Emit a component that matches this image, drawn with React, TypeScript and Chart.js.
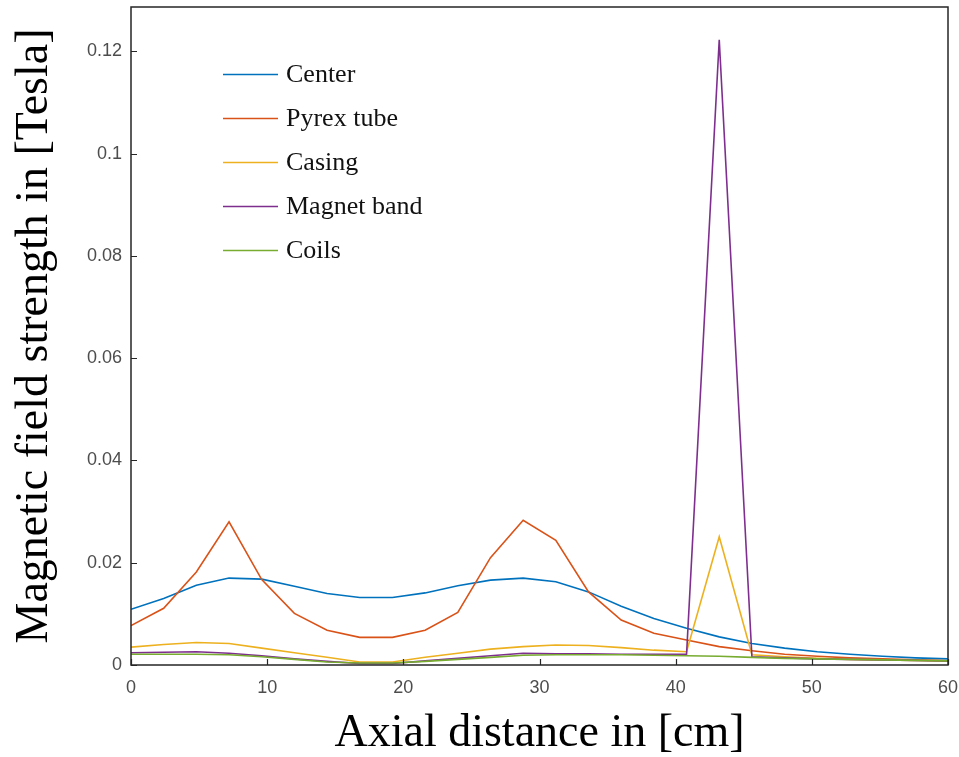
import React, { useEffect, useRef } from "react";
import { Chart, registerables } from "chart.js";

Chart.register(...registerables);

const axialPositions = [0, 2.4, 4.8, 7.2, 9.6, 12, 14.4, 16.8, 19.2, 21.6, 24, 26.4, 28.8, 31.2, 33.6, 36, 38.4, 40.8, 43.2, 45.6, 48, 50.4, 52.8, 55.2, 57.6, 60];

const centerField = [0.0109, 0.0130, 0.0156, 0.0170, 0.0168, 0.0154, 0.0140, 0.0132, 0.0132, 0.0141, 0.0155, 0.0166, 0.0170, 0.0163, 0.0143, 0.0115, 0.0091, 0.0072, 0.0055, 0.0042, 0.0033, 0.0026, 0.0021, 0.0017, 0.0014, 0.0012];
const pyrexField = [0.0077, 0.0111, 0.0182, 0.0280, 0.0167, 0.0101, 0.0068, 0.0054, 0.0054, 0.0068, 0.0103, 0.0210, 0.0283, 0.0244, 0.0143, 0.0088, 0.0062, 0.0049, 0.0036, 0.0028, 0.0021, 0.0017, 0.0014, 0.0012, 0.0010, 0.0008];
const casingField = [0.0035, 0.0040, 0.0044, 0.0042, 0.0033, 0.0024, 0.0015, 0.0006, 0.0006, 0.0015, 0.0023, 0.0031, 0.0036, 0.0039, 0.0038, 0.0034, 0.0029, 0.0026, 0.0251, 0.0020, 0.0016, 0.0013, 0.0011, 0.0010, 0.0009, 0.0008];
const magnetBandField = [0.0024, 0.0025, 0.0026, 0.0023, 0.0018, 0.0012, 0.0007, 0.0003, 0.0003, 0.0008, 0.0013, 0.0018, 0.0023, 0.0022, 0.0022, 0.0021, 0.0021, 0.0021, 0.1223, 0.0016, 0.0014, 0.0012, 0.0011, 0.0010, 0.0009, 0.0008];
const coilsField = [0.0021, 0.0021, 0.0021, 0.0020, 0.0016, 0.0011, 0.0006, 0.0004, 0.0004, 0.0007, 0.0011, 0.0015, 0.0019, 0.0020, 0.0020, 0.0020, 0.0019, 0.0018, 0.0017, 0.0015, 0.0013, 0.0012, 0.0011, 0.0010, 0.0009, 0.0008];

const seriesLabels = ["Center", "Pyrex tube", "Casing", "Magnet band", "Coils"];
const seriesColors = ["#0072BD", "#D95319", "#EDB120", "#7E2F8E", "#77AC30"];
const seriesValues = [centerField, pyrexField, casingField, magnetBandField, coilsField];

const xTickValues = [0, 10, 20, 30, 40, 50, 60];
const yTickValues = [0, 0.02, 0.04, 0.06, 0.08, 0.1, 0.12];

const framePlugin = {
  id: "frameAndLegend",
  afterDraw(chart: any) {
    const { ctx, chartArea } = chart;
    const { left, right, top, bottom } = chartArea;
    const xs = chart.scales.x;
    const ys = chart.scales.y;
    ctx.save();
    ctx.strokeStyle = "#262626";
    ctx.lineWidth = 1.5;
    ctx.strokeRect(left, top, right - left, bottom - top);
    ctx.lineWidth = 1.2;
    ctx.beginPath();
    xTickValues.forEach((v) => {
      const px = Math.round(xs.getPixelForValue(v)) + 0.5;
      ctx.moveTo(px, bottom);
      ctx.lineTo(px, bottom - 6);
    });
    yTickValues.forEach((v) => {
      const py = Math.round(ys.getPixelForValue(v)) + 0.5;
      ctx.moveTo(left, py);
      ctx.lineTo(left + 6, py);
    });
    ctx.stroke();
    const lx0 = 223;
    const lx1 = 278;
    const tx = 286;
    const y0 = 74;
    const dy = 44;
    ctx.font = "26px 'Liberation Serif'";
    ctx.textBaseline = "middle";
    ctx.textAlign = "left";
    chart.data.datasets.forEach((ds: any, i: number) => {
      const y = y0 + i * dy;
      ctx.strokeStyle = ds.borderColor;
      ctx.lineWidth = 1.5;
      ctx.beginPath();
      ctx.moveTo(lx0, y + 0.5);
      ctx.lineTo(lx1, y + 0.5);
      ctx.stroke();
      ctx.fillStyle = "#111111";
      ctx.fillText(ds.label, tx, y + 1);
    });
    ctx.restore();
  },
};

export default function App() {
  const canvasRef = useRef<HTMLCanvasElement | null>(null);

  useEffect(() => {
    const canvas = canvasRef.current;
    if (!canvas) return;
    const datasets = seriesLabels.map((label, i) => ({
      label,
      data: axialPositions.map((x, j) => ({ x, y: seriesValues[i][j] })),
      borderColor: seriesColors[i],
      backgroundColor: seriesColors[i],
      borderWidth: 1.6,
      pointRadius: 0,
      tension: 0,
      fill: false,
      order: seriesLabels.length - i,
    }));
    const chart = new Chart(canvas, {
      type: "line",
      data: { datasets },
      options: {
        responsive: false,
        animation: false,
        devicePixelRatio: 1,
        layout: { padding: { left: 0, right: 11, top: 7, bottom: 0 } },
        plugins: {
          legend: { display: false },
          tooltip: { enabled: false },
        },
        scales: {
          x: {
            type: "linear",
            min: 0,
            max: 60,
            grid: { display: false, drawTicks: false },
            border: { display: false },
            afterFit: (s: any) => {
              s.height = 92;
              s.paddingLeft = 0;
              s.paddingRight = 0;
            },
            afterBuildTicks: (s: any) => {
              s.ticks = xTickValues.map((v) => ({ value: v }));
            },
            ticks: {
              padding: 12,
              color: "#4d4d4d",
              font: { family: "'Liberation Sans'", size: 18 },
              maxRotation: 0,
              callback: (v: any) => String(v),
            },
            title: {
              display: true,
              text: "Axial distance in [cm]",
              color: "#000000",
              font: { family: "'Liberation Serif'", size: 46, lineHeight: 1 },
              padding: { top: 0, bottom: 0 },
            },
          },
          y: {
            type: "linear",
            min: 0,
            max: 0.1287,
            grid: { display: false, drawTicks: false },
            border: { display: false },
            afterFit: (s: any) => {
              s.width = 131;
              s.paddingTop = 0;
              s.paddingBottom = 0;
            },
            afterBuildTicks: (s: any) => {
              s.ticks = yTickValues.map((v) => ({ value: v }));
            },
            ticks: {
              padding: 9,
              color: "#4d4d4d",
              font: { family: "'Liberation Sans'", size: 18 },
              callback: (v: any) => String(Number(Number(v).toFixed(2))),
            },
            title: {
              display: true,
              text: "Magnetic field strength in [Tesla]",
              color: "#000000",
              font: { family: "'Liberation Serif'", size: 46, lineHeight: 1 },
              padding: { top: 12, bottom: 0 },
            },
          },
        },
      },
      plugins: [framePlugin],
    });
    return () => chart.destroy();
  }, []);

  return (
    <div style={{ position: "absolute", left: 0, top: 0, width: 959, height: 757, background: "#ffffff" }}>
      <canvas ref={canvasRef} width={959} height={757} style={{ width: 959, height: 757, display: "block" }} />
    </div>
  );
}
